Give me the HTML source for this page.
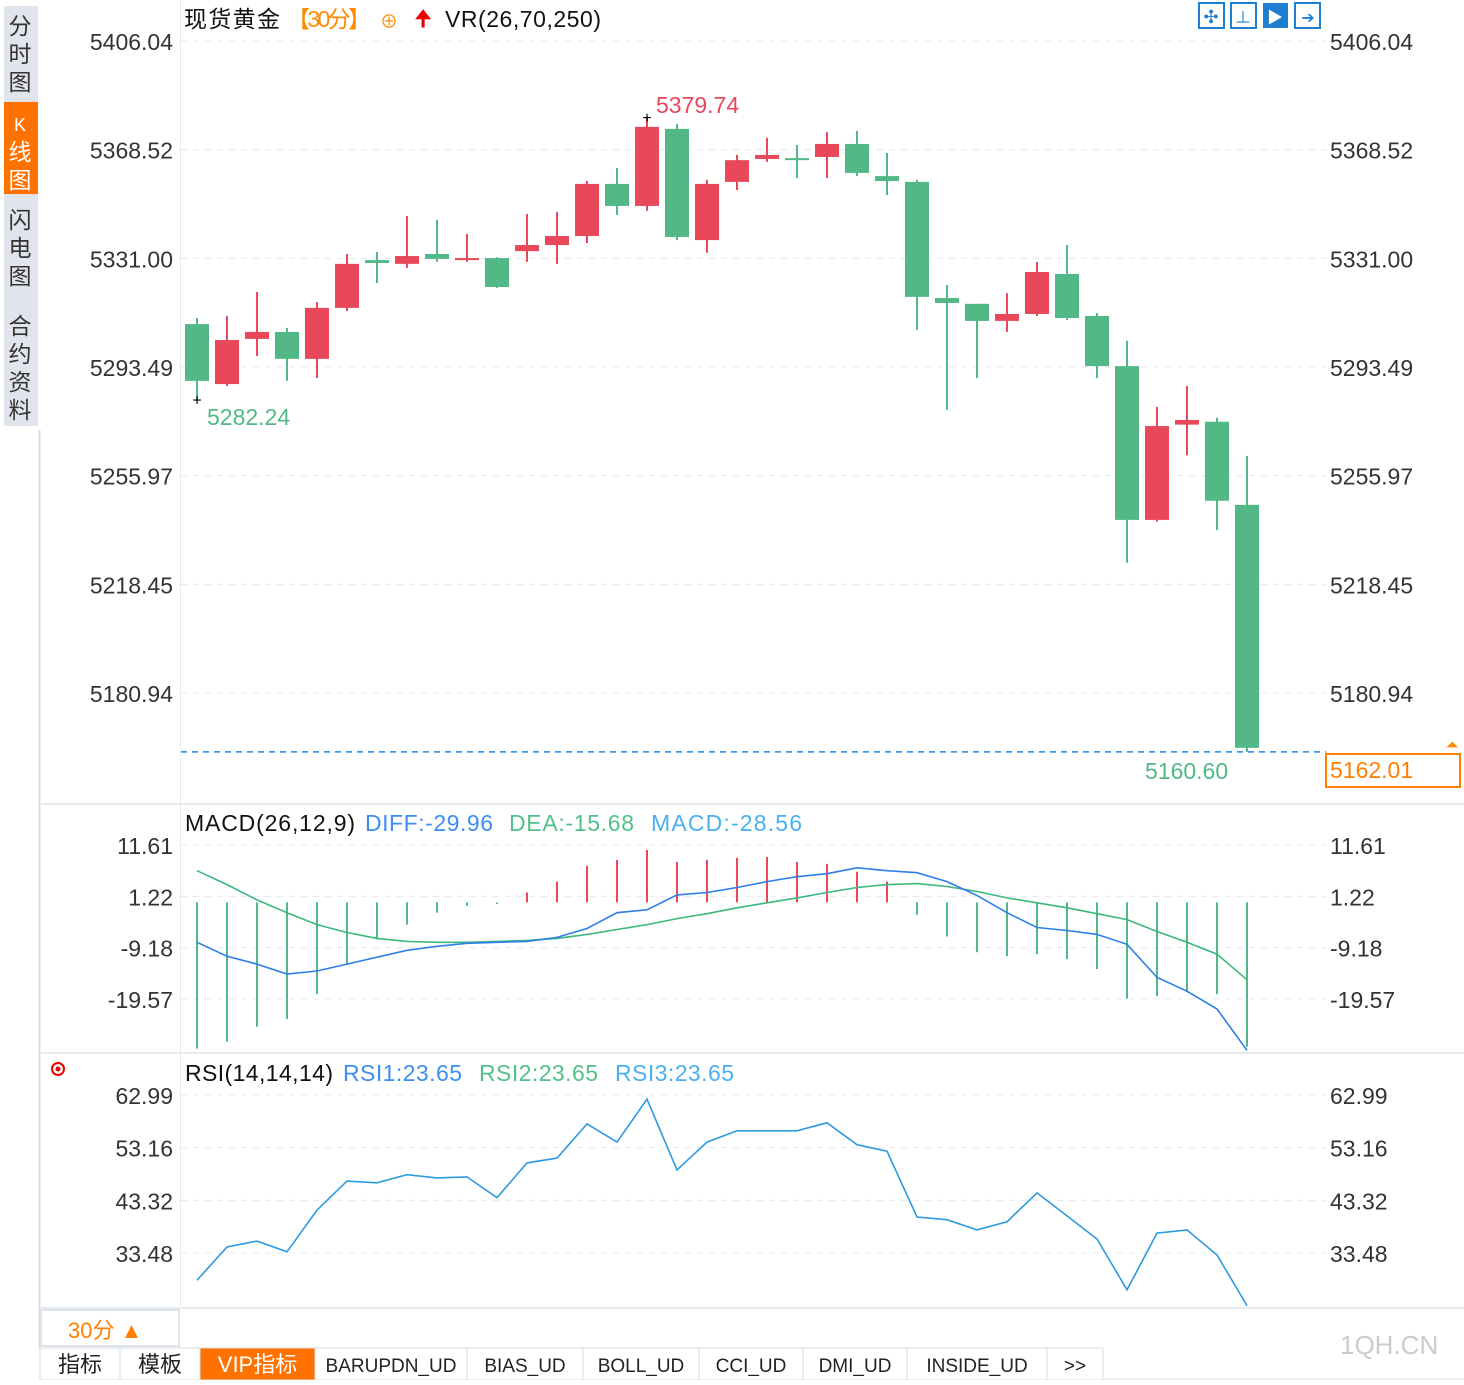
<!DOCTYPE html>
<html><head><meta charset="utf-8"><style>
body{margin:0;width:1464px;height:1380px;background:#fff;overflow:hidden;font-family:"Liberation Sans","Noto Sans CJK SC",sans-serif}
svg text{font-family:"Liberation Sans","Noto Sans CJK SC",sans-serif}
</style></head><body>
<svg id="c" width="1464" height="1380" xmlns="http://www.w3.org/2000/svg">
<rect x="4" y="6" width="34" height="420" fill="#e1e4ec"/>
<rect x="4" y="102" width="34" height="92" fill="#ff7200"/>
<g font-size="23" fill="#333" text-anchor="middle">
<text x="20" y="34">分</text><text x="20" y="62">时</text><text x="20" y="90">图</text>
<text x="20" y="131" fill="#fff" font-size="18">K</text><text x="20" y="160" fill="#fff">线</text><text x="20" y="188" fill="#fff">图</text>
<text x="20" y="228">闪</text><text x="20" y="256">电</text><text x="20" y="284">图</text>
<text x="20" y="334">合</text><text x="20" y="362">约</text><text x="20" y="390">资</text><text x="20" y="418">料</text>
</g>
<line x1="39.5" y1="430" x2="39.5" y2="1348" stroke="#d6dde6" stroke-width="2"/>
<line x1="180.5" y1="0" x2="180.5" y2="1308" stroke="#e6ebf0"/>
<line x1="40" y1="804" x2="1464" y2="804" stroke="#e6ebf0" stroke-width="2"/>
<line x1="40" y1="1053" x2="1464" y2="1053" stroke="#e6ebf0" stroke-width="2"/>
<line x1="40" y1="1308" x2="1464" y2="1308" stroke="#e6ebf0" stroke-width="2"/>
<g id="grid"></g><g id="marks"></g><g id="labels"></g>
<g font-size="23">
<text x="184" y="27" fill="#111" textLength="96">现货黄金</text>
<text x="287" y="27" fill="#ff8a00" textLength="84">【30分】</text>
<text x="380" y="28" fill="#ff8a00" font-size="18">⊕</text>
<text x="414" y="26" fill="#e00" font-size="22">🠉</text>
<text x="445" y="27" fill="#111" textLength="156">VR(26,70,250)</text>
</g>
<g>
<rect x="1199" y="3" width="25" height="25" fill="#fff" stroke="#1e7fd0" stroke-width="2"/><text x="1211" y="23" font-size="18" fill="#1e7fd0" text-anchor="middle">✣</text>
<rect x="1231" y="3" width="25" height="25" fill="#fff" stroke="#1e7fd0" stroke-width="2"/><text x="1243" y="23" font-size="16" fill="#1e7fd0" text-anchor="middle">⊥</text>
<rect x="1263" y="3" width="25" height="25" fill="#1e7fd0"/><text x="1275" y="23" font-size="16" fill="#fff" text-anchor="middle">▶</text>
<rect x="1295" y="3" width="25" height="25" fill="#fff" stroke="#1e7fd0" stroke-width="2"/><text x="1308" y="23" font-size="16" fill="#1e7fd0" text-anchor="middle">➔</text>
</g>
<g font-size="23">
<text x="185" y="831" fill="#111" textLength="170">MACD(26,12,9)</text>
<text x="365" y="831" fill="#3d8ef0" textLength="128">DIFF:-29.96</text>
<text x="509" y="831" fill="#52c08a" textLength="125">DEA:-15.68</text>
<text x="651" y="831" fill="#4ab0f0" textLength="151">MACD:-28.56</text>
</g>
<g font-size="23">
<text x="185" y="1081" fill="#111" textLength="148">RSI(14,14,14)</text>
<text x="343" y="1081" fill="#3d8ef0" textLength="119">RSI1:23.65</text>
<text x="479" y="1081" fill="#52c08a" textLength="119">RSI2:23.65</text>
<text x="615" y="1081" fill="#4ab0f0" textLength="119">RSI3:23.65</text>
</g>
<circle cx="58" cy="1069" r="6" fill="none" stroke="#e00" stroke-width="2"/><circle cx="58" cy="1069" r="2.5" fill="#e00"/>
<rect x="1326" y="754" width="134" height="33" fill="#fff" stroke="#ff7f00" stroke-width="2"/>
<text x="1330" y="778" font-size="23" fill="#ff7f00">5162.01</text>
<text x="1452" y="750" font-size="16" fill="#ff8a00" text-anchor="middle">⏶</text>
<g>
<rect x="41" y="1310" width="138" height="36" fill="#fff" stroke="#dfe4ea" stroke-width="2"/>
<text x="68" y="1338" font-size="22" fill="#ff7f00">30分 ▲</text></g>
<text x="1340" y="1354" font-size="26" fill="#ccc">1QH.CN</text>
<g id="tabs" font-size="20"></g>
</svg>
<script>
const closeP=[5288.7,5302.8,5305.6,5296.3,5313.9,5329.1,5329.4,5331.8,5330.8,5331.1,5321.1,5335.6,5338.7,5356.7,5349.1,5376.4,5338.4,5356.7,5364.9,5366.7,5364.9,5370.5,5360.5,5357.7,5317.7,5315.6,5309.4,5311.8,5326.3,5310.4,5293.8,5240.7,5273.1,5275.2,5247.3,5162.01];
const openP=[5308.3,5287.6,5303.2,5305.6,5296.3,5313.9,5330.4,5329.1,5332.5,5330.4,5331.1,5333.5,5335.6,5338.7,5356.7,5349.1,5375.7,5337.3,5357.4,5365.3,5365.6,5366.0,5370.5,5359.4,5357.4,5317.3,5315.3,5309.4,5311.8,5325.6,5311.1,5293.8,5240.7,5273.6,5274.6,5245.9];
const highP=[5310.4,5311.1,5319.4,5307.0,5315.9,5332.5,5333.2,5345.6,5344.3,5339.4,5331.4,5346.3,5347.0,5357.7,5362.2,5379.74,5377.4,5358.1,5366.7,5372.6,5370.1,5374.6,5375.0,5367.4,5358.1,5321.8,5315.3,5319.0,5329.8,5335.6,5312.1,5302.5,5279.7,5286.9,5276.0,5262.8];
const lowP=[5282.24,5286.9,5297.3,5288.7,5289.7,5312.8,5322.5,5327.7,5329.8,5329.8,5320.8,5329.8,5329.1,5336.3,5346.0,5347.4,5337.3,5332.9,5354.6,5364.3,5358.7,5358.7,5359.4,5352.9,5306.3,5278.7,5289.7,5305.6,5311.1,5309.7,5289.7,5225.9,5240.1,5263.0,5237.2,5160.60];
const macdHist=[-29.6,-28.2,-25.2,-23.6,-18.6,-12.5,-7.5,-4.5,-2.1,-0.7,-0.3,2.0,4.2,7.4,8.6,10.6,8.2,8.6,9.0,9.2,8.2,7.8,6.2,4.2,-2.5,-6.9,-10.1,-10.9,-10.5,-11.5,-13.5,-19.5,-19.0,-18.2,-18.6,-29.2];
const diffV=[-8.1,-10.9,-12.5,-14.5,-13.9,-12.5,-11.1,-9.7,-8.9,-8.3,-8.1,-7.9,-7.1,-5.3,-2.1,-1.5,1.5,2.0,3.0,4.2,5.2,5.8,7.0,6.4,6.0,4.2,1.4,-2.1,-5.1,-5.7,-6.5,-8.5,-15.2,-18.0,-21.6,-29.96];
const deaV=[6.4,3.6,0.5,-2.1,-4.5,-6.1,-7.3,-7.9,-8.1,-8.1,-7.9,-7.7,-7.3,-6.5,-5.5,-4.5,-3.3,-2.3,-1.1,-0.1,0.9,2.0,3.0,3.6,3.8,3.2,2.2,0.9,-0.1,-1.1,-2.3,-3.5,-5.9,-8.1,-10.5,-15.68];
const rsiV=[28.4,34.6,35.7,33.7,41.5,46.9,46.6,48.1,47.5,47.7,43.8,50.3,51.2,57.6,54.2,62.2,49.0,54.2,56.3,56.3,56.3,57.8,53.7,52.5,40.2,39.7,37.8,39.3,44.7,40.4,36.1,26.6,37.2,37.8,33.1,23.65];
const priceTicks=["5406.04","5368.52","5331.00","5293.49","5255.97","5218.45","5180.94"];
const macdTicks=["11.61","1.22","-9.18","-19.57"];
const rsiTicks=["62.99","53.16","43.32","33.48"];
const tabNames=["指标","模板","VIP指标","BARUPDN_UD","BIAS_UD","BOLL_UD","CCI_UD","DMI_UD","INSIDE_UD",">>"];

const NS="http://www.w3.org/2000/svg";
function mk(tag,attrs,parent,txt){const e=document.createElementNS(NS,tag);for(const k in attrs)e.setAttribute(k,attrs[k]);if(txt!==undefined)e.textContent=txt;parent.appendChild(e);return e;}
const xOf=i=>197+i*30;
const yP=p=>41+(5406.04-p)*(652/225.1);
const yM=v=>845+(11.61-v)*(154/31.18);
const yR=v=>1095+(62.99-v)*(158/29.51);
const grid=document.getElementById('grid'),marks=document.getElementById('marks'),labels=document.getElementById('labels');
function axis(ticks,yf){ticks.forEach(t=>{const y=yf(parseFloat(t));
 let l=mk('line',{x1:181,x2:1325,y1:y,y2:y,stroke:'#e4e8ee','stroke-dasharray':'6 6'},grid);
 
 
 let a=mk('text',{x:173,y:y+9,'font-size':23,fill:'#333','text-anchor':'end'},labels,t);
 
 
 let b=mk('text',{x:1330,y:y+9,'font-size':23,fill:'#333'},labels,t);
 
 });}
axis(priceTicks,yP);axis(macdTicks,yM);axis(rsiTicks,yR);
const RED='#e8485a',GRN='#52b986';
for(let i=0;i<closeP.length;i++){
 const up=closeP[i]>=openP[i],c=up?RED:GRN,x=xOf(i);
 let w=mk('line',{x1:x,x2:x,y1:yP(highP[i]),y2:yP(lowP[i]),stroke:c,'stroke-width':2},marks);
 
 
 const t=Math.min(yP(openP[i]),yP(closeP[i])),h=Math.max(2,Math.abs(yP(openP[i])-yP(closeP[i])));
 let r=mk('rect',{x:x-12,y:t,width:24,height:h,fill:c},marks);
 
 
 const z=yM(0),v=yM(macdHist[i]);
 let m=mk('line',{x1:x,x2:x,y1:z,y2:v,stroke:macdHist[i]>=0?RED:GRN,'stroke-width':2},marks);
 
 
}
function line(vals,yf,color,name){let d=vals.map((v,i)=>(i?'L':'M')+xOf(i)+' '+yf(v).toFixed(1)).join(' ');
 let p=mk('path',{d:d,fill:'none',stroke:color,'stroke-width':1.6},marks);
 
 }
line(deaV,yM,'#3bb87c','dea-line');line(diffV,yM,'#2f7fe8','diff-line');line(rsiV,yR,'#2d9ae0','rsi-line');
let hi=highP.indexOf(Math.max(...highP)),lo=lowP.indexOf(Math.min(...lowP));
mk('text',{x:656,y:113,'font-size':23,fill:'#e8485a'},labels,Math.max(...highP).toFixed(2));
mk('text',{x:xOf(hi),y:yP(highP[hi])+6,'font-size':16,fill:'#000','text-anchor':'middle'},labels,'+');
mk('text',{x:207,y:425,'font-size':23,fill:'#52b986'},labels,lowP[0].toFixed(2));
mk('text',{x:xOf(0),y:yP(lowP[0])+6,'font-size':16,fill:'#000','text-anchor':'middle'},labels,'+');
mk('text',{x:1145,y:779,'font-size':23,fill:'#52b986'},labels,lowP[lo].toFixed(2));
const yc=yP(lowP[lowP.length-1]);
let cl=mk('line',{x1:181,x2:1326,y1:yc,y2:yc,stroke:'#1e88e5','stroke-dasharray':'6 5','stroke-width':1.5},grid);


const tg=document.getElementById('tabs');let tx=40;
const tw=[80,80,115,152,116,116,104,104,140,56];
tabNames.forEach((n,i)=>{const sel=i==2;
 let r=mk('rect',{x:tx,y:1348,width:tw[i],height:32,fill:sel?'#ff7200':'#fff',stroke:'#d6dde6'},tg);
 
 
 let t=mk('text',{x:tx+tw[i]/2,y:1372,'text-anchor':'middle',fill:sel?'#fff':'#222','font-size':i<3?22:19},tg,n);
 
 
 tx+=tw[i];});
mk('line',{x1:tx,x2:1464,y1:1379,y2:1379,stroke:'#d6dde6'},tg);
</script>
</body></html>
